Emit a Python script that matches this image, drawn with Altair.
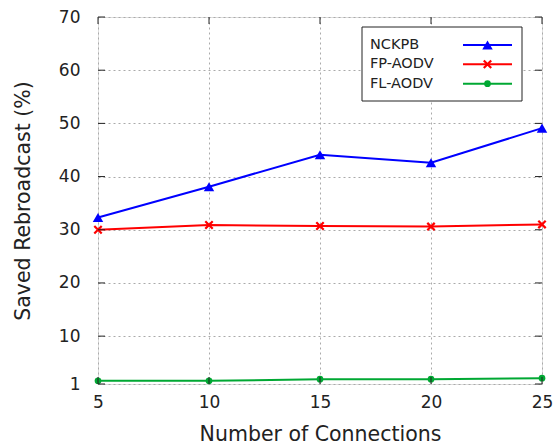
import altair as alt
import pandas as pd

# Number of connections on the x axis
connections = [5, 10, 15, 20, 25]

# Saved rebroadcast (%) for each protocol
series_names = ["NCKPB", "FP-AODV", "FL-AODV"]
nckpb = [32.3, 38.1, 44.1, 42.6, 49.1]
fp_aodv = [30.0, 30.9, 30.7, 30.6, 31.0]
fl_aodv = [1.6, 1.6, 1.9, 1.9, 2.1]

colors = ["#0000ff", "#ff0000", "#00a833"]
shapes = ["triangle-up", "M-1,-1L1,1M-1,1L1,-1", "circle"]
marker_sizes = [110, 55, 45]

y_ticks = [1, 10, 20, 30, 40, 50, 60, 70]
x_ticks = [5, 10, 15, 20, 25]

W, H = 444, 367
FONT = "DejaVu Sans"

rows = []
for name, vals in zip(series_names, [nckpb, fp_aodv, fl_aodv]):
    for c, v in zip(connections, vals):
        rows.append({"series": name, "connections": c, "saved": v})
df = pd.DataFrame(rows)

x_scale = alt.Scale(domain=[5, 25], nice=False, zero=False)
y_scale = alt.Scale(domain=[1, 70], nice=False, zero=False)

x_enc = alt.X(
    "connections:Q", scale=x_scale,
    axis=alt.Axis(values=x_ticks, title="Number of Connections", ticks=False,
                  labelFontSize=17, labelPadding=10, labelColor="#222", labelFlush=False,
                  titleFontSize=20.5, titleFontWeight="normal", titleColor="#222",
                  titlePadding=14, domain=False,
                  grid=True, gridDash=[2, 3], gridColor="#aaa", gridWidth=1),
)
y_enc = alt.Y(
    "saved:Q", scale=y_scale,
    axis=alt.Axis(values=y_ticks, title="Saved Rebroadcast (%)", ticks=False,
                  labelFontSize=17, labelPadding=18, labelColor="#222", labelFlush=False,
                  titleFontSize=20.5, titleFontWeight="normal", titleColor="#222",
                  titlePadding=25, domain=False,
                  grid=True, gridDash=[2, 3], gridColor="#aaa", gridWidth=1),
)

layers = []
for name, color, shape, size in zip(series_names, colors, shapes, marker_sizes):
    sub = df[df["series"] == name]
    base = alt.Chart(sub).encode(x=x_enc, y=y_enc)
    layers.append(base.mark_line(color=color, strokeWidth=2))
    if shape.startswith("M"):
        layers.append(base.mark_point(shape=shape, size=size, color=color,
                                      filled=False, strokeWidth=2.2, opacity=1))
    else:
        layers.append(base.mark_point(shape=shape, size=size, color=color,
                                      filled=True, opacity=1))

# Inward ticks on all four sides of the frame
ytick_df = pd.DataFrame({"saved": y_ticks})
xtick_df = pd.DataFrame({"connections": x_ticks})
tick_len = 7
layers += [
    alt.Chart(ytick_df).mark_rule(color="#222", strokeWidth=1).encode(
        y=alt.Y("saved:Q", scale=y_scale), x=alt.value(0), x2=alt.value(tick_len)),
    alt.Chart(ytick_df).mark_rule(color="#222", strokeWidth=1).encode(
        y=alt.Y("saved:Q", scale=y_scale), x=alt.value(W - tick_len), x2=alt.value(W)),
    alt.Chart(xtick_df).mark_rule(color="#222", strokeWidth=1).encode(
        x=alt.X("connections:Q", scale=x_scale), y=alt.value(H - tick_len), y2=alt.value(H)),
    alt.Chart(xtick_df).mark_rule(color="#222", strokeWidth=1).encode(
        x=alt.X("connections:Q", scale=x_scale), y=alt.value(0), y2=alt.value(tick_len)),
]

# Legend box with line + marker samples
box = alt.Chart(pd.DataFrame({"a": [0]})).mark_rect(
    fill="white", stroke="#222", strokeWidth=1
).encode(x=alt.value(264), x2=alt.value(424), y=alt.value(10), y2=alt.value(84))
layers.append(box)

row_y = [28, 47.3, 66.7]
for name, color, shape, size, ry in zip(series_names, colors, shapes, marker_sizes, row_y):
    lab = pd.DataFrame({"series": [name]})
    layers.append(alt.Chart(lab).mark_text(
        align="left", baseline="middle", font=FONT, fontSize=14.5, color="#222"
    ).encode(text="series:N", x=alt.value(272), y=alt.value(ry)))
    layers.append(alt.Chart(lab).mark_rule(color=color, strokeWidth=2).encode(
        x=alt.value(365), x2=alt.value(414), y=alt.value(ry)))
    if shape.startswith("M"):
        layers.append(alt.Chart(lab).mark_point(
            shape=shape, size=size, color=color, filled=False, strokeWidth=2.2, opacity=1
        ).encode(x=alt.value(389.5), y=alt.value(ry)))
    else:
        layers.append(alt.Chart(lab).mark_point(
            shape=shape, size=size, color=color, filled=True, opacity=1
        ).encode(x=alt.value(389.5), y=alt.value(ry)))

chart = alt.layer(*layers).properties(
    width=W, height=H,
    padding={"left": 98, "top": 17, "right": 11, "bottom": 64},
    autosize=alt.AutoSizeParams(type="none"),
).configure_view(stroke="#222", strokeWidth=1).configure(
    font=FONT, background="white"
)

chart.save("out.html", embed_options={"renderer": "svg", "actions": False})
